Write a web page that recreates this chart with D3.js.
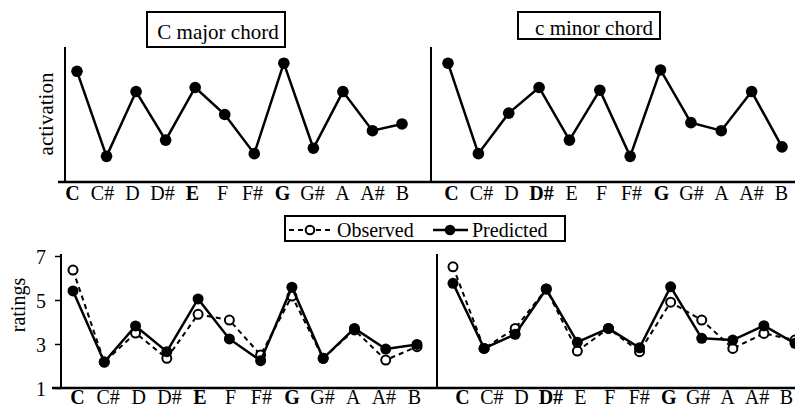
<!DOCTYPE html>
<html><head><meta charset="utf-8">
<script src="https://cdn.jsdelivr.net/npm/d3@7"></script>
<style>
html,body{margin:0;padding:0;background:#fff;}
svg text{font-family:"Liberation Serif","Times New Roman",Times,serif !important;fill:#000;}
</style></head>
<body><svg id="chart" width="795" height="407"></svg>
<script>
// ---- data ----
const notes = ["C","C#","D","D#","E","F","F#","G","G#","A","A#","B"];
const majorActivation = [0.82,0.19,0.67,0.31,0.70,0.50,0.21,0.88,0.25,0.67,0.38,0.43];
const minorActivation = [0.88,0.21,0.51,0.70,0.31,0.68,0.19,0.83,0.44,0.38,0.67,0.26];
const majorPredicted = [5.41,2.18,3.82,2.65,5.05,3.23,2.24,5.58,2.35,3.71,2.77,2.98];
const majorObserved  = [6.36,2.18,3.50,2.35,4.35,4.09,2.50,5.18,2.35,3.64,2.27,2.88];
const minorPredicted = [5.76,2.80,3.44,5.50,3.08,3.71,2.83,5.60,3.26,3.18,3.83,3.03];
const minorObserved  = [6.51,2.80,3.71,5.50,2.68,3.71,2.65,4.90,4.09,2.80,3.48,3.18];
const ratingTicks = [1,3,5,7];
const majorBold = ["C","E","G"];
const minorBold = ["C","D#","G"];
const titles = ["C major chord","c minor chord"];
const seriesNames = ["Observed","Predicted"];
const yLabels = ["activation","ratings"];

const svg = d3.select("#chart");
const FS = 20;

// continuous baseline axes
svg.append("line").attr("x1",58).attr("x2",795).attr("y1",182).attr("y2",182)
  .attr("stroke","#000").attr("stroke-width",2.5);
svg.append("line").attr("x1",52).attr("x2",795).attr("y1",388).attr("y2",388)
  .attr("stroke","#000").attr("stroke-width",2.5);

function xAxisLabels(x, y0, bold){
  const ax = d3.axisBottom(x).tickSize(0).tickPadding(0);
  const g = svg.append("g").attr("transform",`translate(0,${y0})`).call(ax);
  g.select(".domain").remove();
  g.selectAll("text").attr("font-size",FS)
    .attr("dy","0").attr("y",0)
    .attr("font-weight",d=>bold.includes(d)?"bold":"normal");
}

function topPanel(vals, axisX, x0, x1, lx0, lx1, bold){
  const x = d3.scalePoint().domain(notes).range([x0,x1]);
  const xl = d3.scalePoint().domain(notes).range([lx0,lx1]);
  const y = d3.scaleLinear().domain([0,1]).range([182,47]);
  svg.append("line").attr("x1",axisX).attr("x2",axisX).attr("y1",47).attr("y2",182)
    .attr("stroke","#000").attr("stroke-width",2);
  const line = d3.line().x((d,i)=>x(notes[i])).y(d=>y(d));
  svg.append("path").datum(vals).attr("d",line).attr("fill","none")
    .attr("stroke","#000").attr("stroke-width",2.5);
  svg.append("g").selectAll("circle").data(vals).join("circle")
    .attr("cx",(d,i)=>x(notes[i])).attr("cy",d=>y(d)).attr("r",5.8).attr("fill","#000");
  xAxisLabels(xl, 200, bold);
}

function bottomPanel(obs, pred, axisX, x0, x1, lx0, lx1, bold, showTicks){
  const x = d3.scalePoint().domain(notes).range([x0,x1]);
  const xl = d3.scalePoint().domain(notes).range([lx0,lx1]);
  const y = d3.scaleLinear().domain([1,7]).range([388,256]);
  const yAx = d3.axisLeft(y).tickValues(ratingTicks).tickFormat(d3.format("d"))
    .tickSize(showTicks?6:0).tickPadding(9);
  const g = svg.append("g").attr("transform",`translate(${axisX},0)`).call(yAx);
  g.select(".domain").attr("stroke-width",2).attr("d",`M0,254V388`);
  g.selectAll(".tick line").attr("stroke-width",1.5);
  if(showTicks){
    g.selectAll("text").attr("font-size",FS).attr("dy","0.36em");
  } else {
    g.selectAll("text").remove();
    g.selectAll(".tick line").remove();
  }
  const line = d3.line().x((d,i)=>x(notes[i])).y(d=>y(d));
  svg.append("path").datum(obs).attr("d",line).attr("fill","none")
    .attr("stroke","#000").attr("stroke-width",2).attr("stroke-dasharray","5,4");
  svg.append("g").selectAll("circle").data(obs).join("circle")
    .attr("cx",(d,i)=>x(notes[i])).attr("cy",d=>y(d)).attr("r",4.5)
    .attr("fill","#fff").attr("stroke","#000").attr("stroke-width",2);
  svg.append("path").datum(pred).attr("d",line).attr("fill","none")
    .attr("stroke","#000").attr("stroke-width",2.5);
  svg.append("g").selectAll("circle").data(pred).join("circle")
    .attr("cx",(d,i)=>x(notes[i])).attr("cy",d=>y(d)).attr("r",5.5).attr("fill","#000");
  xAxisLabels(xl, 404, bold);
}

topPanel(majorActivation, 65, 77, 402, 72, 402, majorBold);
topPanel(minorActivation, 431, 448, 782, 451, 781, minorBold);
bottomPanel(majorObserved, majorPredicted, 61, 73, 417, 77, 414, majorBold, true);
bottomPanel(minorObserved, minorPredicted, 437, 453, 795, 462, 786, minorBold, false);

// y labels
svg.append("text").attr("transform","translate(53,114) rotate(-90)")
  .attr("text-anchor","middle").attr("font-size",21).text(yLabels[0]);
svg.append("text").attr("transform","translate(25,305) rotate(-90)")
  .attr("text-anchor","middle").attr("font-size",20).text(yLabels[1]);

// title boxes
svg.append("rect").attr("x",147).attr("y",12).attr("width",138).attr("height",35)
  .attr("fill","#fff").attr("stroke","#000").attr("stroke-width",2);
svg.append("text").attr("x",218).attr("y",39).attr("text-anchor","middle")
  .attr("font-size",21).text(titles[0]);
svg.append("rect").attr("x",518).attr("y",12).attr("width",142).attr("height",27)
  .attr("fill","#fff").attr("stroke","#000").attr("stroke-width",2);
svg.append("text").attr("x",594).attr("y",35).attr("text-anchor","middle")
  .attr("font-size",21).text(titles[1]);

// legend
svg.append("rect").attr("x",285).attr("y",216).attr("width",280).attr("height",25)
  .attr("fill","#fff").attr("stroke","#000").attr("stroke-width",2);
svg.append("line").attr("x1",289).attr("x2",333).attr("y1",230).attr("y2",230)
  .attr("stroke","#000").attr("stroke-width",2).attr("stroke-dasharray","5,4");
svg.append("circle").attr("cx",310).attr("cy",230).attr("r",4.3)
  .attr("fill","#fff").attr("stroke","#000").attr("stroke-width",2);
svg.append("text").attr("x",337).attr("y",237).attr("font-size",20).text(seriesNames[0]);
svg.append("line").attr("x1",433).attr("x2",468).attr("y1",230).attr("y2",230)
  .attr("stroke","#000").attr("stroke-width",2.5);
svg.append("circle").attr("cx",450).attr("cy",230).attr("r",5.3).attr("fill","#000");
svg.append("text").attr("x",472).attr("y",237).attr("font-size",20).text(seriesNames[1]);
</script>
</body></html>
